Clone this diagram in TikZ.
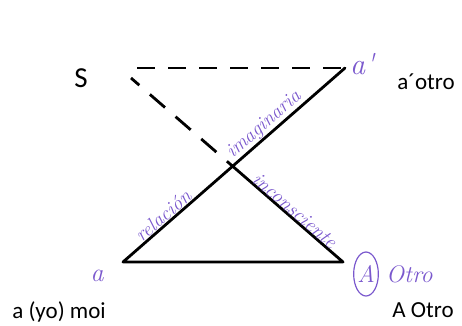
\documentclass[tikz,border=0pt]{standalone}
\usepackage{fontspec}
\setsansfont{Carlito}
\newfontfamily\handfont{Latin Modern Roman}
\definecolor{handpurple}{RGB}{122,88,205}
\usetikzlibrary{positioning,shapes.geometric}

\begin{document}
\begin{tikzpicture}[
x=1pt, y=-1pt,
printed/.style={font=\sffamily\fontsize{23}{26}\selectfont, text=black},
hand/.style={font=\handfont\itshape\fontsize{20}{22}\selectfont, text=handpurple, inner sep=1.5pt},
handbig/.style={font=\handfont\itshape\fontsize{24}{28}\selectfont, text=handpurple, inner sep=0pt},
circled/.style={handbig, draw=handpurple, line width=1.2pt, ellipse, minimum width=22pt, minimum height=44pt},
solidline/.style={draw, line width=2.8pt, line cap=round, line join=round},
dashline/.style={draw, line width=2.8pt, dash pattern=on 18pt off 13pt, dash phase=27pt},
diagdash/.style={draw, line width=2.8pt, dash pattern=on 20pt off 14pt, dash phase=9pt}
]
\useasboundingbox (0,0) rectangle (462,325);

\coordinate (S) at (133,68);
\coordinate (Sd) at (131,78);
\coordinate (ap) at (345,68);
\coordinate (a) at (123,262);
\coordinate (A) at (343,262);
\coordinate (X) at (intersection of Sd--A and ap--a);

\draw[dashline] (S) -- (ap);
\draw[diagdash] (Sd) -- (X);
\draw[solidline] (ap) -- (a) -- (A) -- (X);

\node[printed, font=\sffamily\fontsize{29}{32}\selectfont] (Slabel) at (81,78) {S};
\node[printed] (apLabel) at (426,82) {a´otro};
\node[printed] (aLabel) at (59,312) {a (yo) moi};
\node[printed] (ALabel) at (423,310) {A Otro};

\node[handbig, font=\handfont\itshape\fontsize{30}{32}\selectfont] (apHand) at (362,64) {a'};
\node[handbig, font=\handfont\itshape\fontsize{26}{28}\selectfont] (aHand) at (97,276) {a};
\node[circled] (AHand) at (366,274) {A};
\node[handbig, right=20pt of AHand.center, anchor=west] (OtroHand) {Otro};

\path (a) -- (ap)
  node[hand, sloped, above, pos=0.205] (relLabel) {relación}
  node[hand, sloped, above, pos=0.667] (imagLabel) {imaginaria};
\path (X) -- (A)
  node[hand, sloped, above, pos=0.52, inner sep=0.5pt] (incLabel) {inconsciente};

\end{tikzpicture}
\end{document}
